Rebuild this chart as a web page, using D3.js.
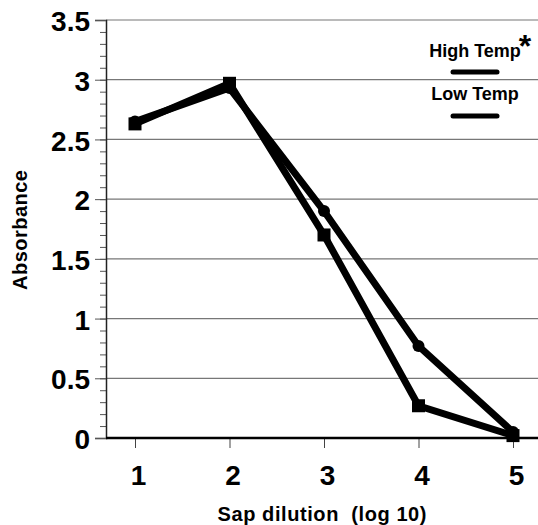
<!DOCTYPE html>
<html>
<head>
<meta charset="utf-8">
<script src="https://cdn.jsdelivr.net/npm/d3@7"></script>
<style>
  body { margin: 0; background: #fff; }
  text { font-family: "Liberation Sans", Arial, sans-serif; font-weight: bold; }
</style>
</head>
<body>
<div id="chart"></div>
<script>
// data
const dilutions = [1, 2, 3, 4, 5];
const highTemp = [2.63, 2.97, 1.70, 0.27, 0.02];   // squares
const lowTemp = [2.65, 2.93, 1.90, 0.77, 0.05];    // circles
const yTicks = [0, 0.5, 1, 1.5, 2, 2.5, 3, 3.5];
const legendLabels = ["High Temp", "Low Temp"];

const width = 538, height = 525;
const margin = {left: 106, right: 538, top: 20, bottom: 438};

const svg = d3.select("#chart").append("svg")
    .attr("width", width)
    .attr("height", height);

const x = d3.scaleLinear().domain([1, 5]).range([135, 513]);
const y = d3.scaleLinear().domain([0, 3.5]).range([margin.bottom, margin.top]);

// gridlines
svg.append("g")
    .selectAll("line")
    .data(yTicks.filter(d => d > 0))
    .enter().append("line")
    .attr("x1", margin.left).attr("x2", margin.right)
    .attr("y1", d => y(d)).attr("y2", d => y(d))
    .attr("stroke", "#777")
    .attr("stroke-width", 1.2);

// minor ticks on y axis
const minor = d3.range(0, 3.51, 0.1).map(d => +d.toFixed(1));
svg.append("g")
    .attr("transform", "translate(" + margin.left + ",0)")
    .call(d3.axisLeft(y).tickValues(minor).tickSize(6).tickFormat(""))
    .call(g => g.select(".domain").remove())
    .call(g => g.selectAll("line").attr("stroke", "#555"));

// y axis
svg.append("g")
    .attr("transform", "translate(" + margin.left + ",0)")
    .call(d3.axisLeft(y).tickValues(yTicks).tickSize(11).tickPadding(5).tickFormat(d => String(d)))
    .call(g => g.select(".domain").attr("stroke", "#222").attr("stroke-width", 1.5))
    .call(g => g.selectAll("line").attr("stroke", "#555"))
    .call(g => g.selectAll("text")
        .attr("fill", "#000")
        .style("font-size", "28px")
        .attr("dy", "0.38em"));

// x axis
svg.append("g")
    .attr("transform", "translate(0," + margin.bottom + ")")
    .call(d3.axisBottom(x).tickValues(dilutions).tickSize(10).tickPadding(17).tickFormat(d3.format("d")))
    .call(g => g.select(".domain").remove())
    .call(g => g.selectAll("line").attr("stroke", "#444"))
    .call(g => g.selectAll("text")
        .attr("fill", "#000")
        .attr("dx", 3)
        .style("font-size", "28px"));

svg.append("line")
    .attr("x1", margin.left).attr("x2", margin.right)
    .attr("y1", margin.bottom).attr("y2", margin.bottom)
    .attr("stroke", "#000")
    .attr("stroke-width", 2.5);

// series lines
const line = d3.line()
    .x((d, i) => x(dilutions[i]))
    .y(d => y(d));

[highTemp, lowTemp].forEach(function(s) {
    svg.append("path")
        .datum(s)
        .attr("d", line)
        .attr("fill", "none")
        .attr("stroke", "#000")
        .attr("stroke-width", 7)
        .attr("stroke-linejoin", "miter");
});

// markers
svg.append("g").selectAll("rect")
    .data(highTemp)
    .enter().append("rect")
    .attr("x", (d, i) => x(dilutions[i]) - 6.5)
    .attr("y", d => y(d) - 6.5)
    .attr("width", 13)
    .attr("height", 13)
    .attr("fill", "#000");

svg.append("g").selectAll("circle")
    .data(lowTemp)
    .enter().append("circle")
    .attr("cx", (d, i) => x(dilutions[i]))
    .attr("cy", d => y(d))
    .attr("r", 6)
    .attr("fill", "#000");

// legend
const legendY = [57, 100];
const lineY = [72, 116];
legendLabels.forEach(function(lbl, i) {
    svg.append("text")
        .attr("x", 475)
        .attr("y", legendY[i])
        .attr("text-anchor", "middle")
        .style("font-size", "18px")
        .text(lbl);
    svg.append("line")
        .attr("x1", 453).attr("x2", 497)
        .attr("y1", lineY[i]).attr("y2", lineY[i])
        .attr("stroke", "#000")
        .attr("stroke-width", 5)
        .attr("stroke-linecap", "round");
});
svg.append("text")
    .attr("x", 525)
    .attr("y", 57)
    .attr("text-anchor", "middle")
    .style("font-size", "32px")
    .text("*");

// axis titles
svg.append("text")
    .attr("x", 322)
    .attr("y", 521)
    .attr("text-anchor", "middle")
    .style("font-size", "20px")
    .style("white-space", "pre")
    .attr("textLength", 209)
    .text("Sap dilution  (log 10)");

svg.append("text")
    .attr("transform", "translate(27,230) rotate(-90)")
    .attr("text-anchor", "middle")
    .style("font-size", "20px")
    .attr("textLength", 120)
    .text("Absorbance");
</script>
</body>
</html>
